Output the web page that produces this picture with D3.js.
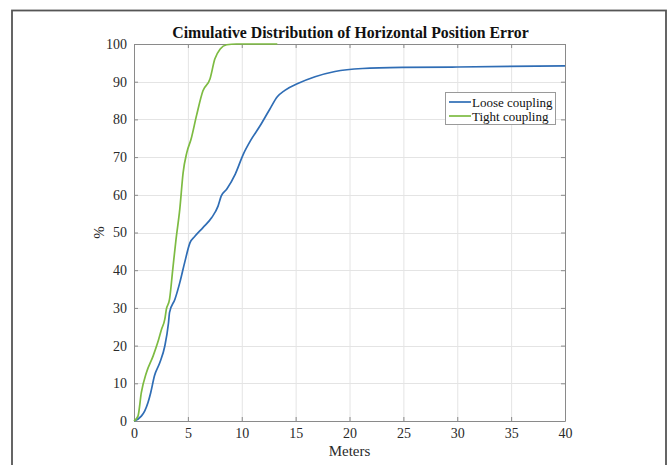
<!DOCTYPE html>
<html>
<head>
<meta charset="utf-8">
<script src="https://cdn.jsdelivr.net/npm/d3@7"></script>
<style>
  html, body { margin: 0; padding: 0; background: #fff; }
  svg { display: block; font-family: "Liberation Serif", "Times New Roman", serif; }
</style>
</head>
<body>
<svg id="chart" width="670" height="465"></svg>
<script>
// Horizontal position error CDF (meters vs. cumulative %)
const looseX = [0, 0.68, 1.0, 1.3, 1.55, 1.9, 2.4, 2.86, 3.2, 3.3, 3.8, 4.25, 4.7, 5.2, 5.65, 6.4, 7.2, 7.8, 8.1, 8.6, 9.4, 10.15, 10.8, 11.7, 12.6, 13.3, 14.0, 15.2, 16.8, 18.65, 21.2, 24.9, 30, 40];
const looseY = [0, 1.3, 2.7, 4.9, 7.5, 12, 15.5, 19.9, 26, 28.8, 32.3, 36.7, 42, 47.3, 49, 51.3, 53.9, 57, 59.7, 61.5, 65.5, 70.8, 74.3, 78.3, 82.7, 86, 87.7, 89.5, 91.3, 92.7, 93.5, 93.8, 93.9, 94.2];

const tightX = [0, 0.37, 0.68, 1.15, 1.77, 2.2, 2.55, 2.86, 3.0, 3.3, 3.6, 3.9, 4.25, 4.56, 4.9, 5.3, 5.8, 6.4, 7.05, 7.5, 8.0, 8.6, 9.5, 13.3];
const tightY = [0, 1.3, 7.5, 12.8, 17.2, 20.8, 24.3, 27, 29.6, 32.3, 40.3, 48.2, 56.2, 65.9, 71.2, 74.8, 81, 87.6, 90.7, 96, 98.7, 99.8, 100, 100];

const seriesNames = ["Loose coupling", "Tight coupling"];
const seriesColors = ["#2f6db5", "#7dbb42"];

const xTicks = [0, 5, 10, 15, 20, 25, 30, 35, 40];
const yTicks = [0, 10, 20, 30, 40, 50, 60, 70, 80, 90, 100];

const titleText = "Cimulative Distribution of Horizontal Position Error";
const xLabel = "Meters";
const yLabel = "%";

const serif = "Liberation Serif, Times New Roman, serif";
const svg = d3.select("#chart");

// outer frame
svg.append("rect")
  .attr("x", 12).attr("y", 10.5)
  .attr("width", 654).attr("height", 470)
  .attr("fill", "none").attr("stroke", "#555").attr("stroke-width", 1.8);

const plot = { left: 134, top: 44, right: 565, bottom: 421 };

const x = d3.scaleLinear().domain([0, 40]).range([plot.left, plot.right]);
const y = d3.scaleLinear().domain([0, 100]).range([plot.bottom, plot.top]);

// grid
const grid = svg.append("g").attr("stroke", "#e4e4e4").attr("stroke-width", 1);
grid.selectAll("line.gx").data(xTicks.slice(1, -1)).join("line")
  .attr("x1", d => x(d) + 0.5).attr("x2", d => x(d) + 0.5)
  .attr("y1", plot.top).attr("y2", plot.bottom);
grid.selectAll("line.gy").data(yTicks.slice(1, -1)).join("line")
  .attr("y1", d => Math.round(y(d)) + 0.5).attr("y2", d => Math.round(y(d)) + 0.5)
  .attr("x1", plot.left).attr("x2", plot.right);

// axes with inward ticks
const axisColor = "#8a8a8a";
const textColor = "#2a2a2a";
function styleAxis(g) {
  g.attr("font-family", serif).attr("font-size", 14);
  g.select(".domain").attr("stroke", axisColor);
  g.selectAll(".tick line").attr("stroke", axisColor);
  g.selectAll(".tick text").attr("fill", textColor);
}

svg.append("g").attr("transform", `translate(0,${plot.bottom})`)
  .call(d3.axisBottom(x).tickValues(xTicks).tickSizeInner(-4).tickSizeOuter(0).tickPadding(7))
  .call(styleAxis);
svg.append("g").attr("transform", `translate(0,${plot.top})`)
  .call(d3.axisTop(x).tickValues(xTicks).tickSizeInner(-4).tickSizeOuter(0).tickFormat(""))
  .call(styleAxis);
svg.append("g").attr("transform", `translate(${plot.left},0)`)
  .call(d3.axisLeft(y).tickValues(yTicks).tickSizeInner(-4).tickSizeOuter(0).tickPadding(7))
  .call(styleAxis);
svg.append("g").attr("transform", `translate(${plot.right},0)`)
  .call(d3.axisRight(y).tickValues(yTicks).tickSizeInner(-4).tickSizeOuter(0).tickFormat(""))
  .call(styleAxis);

// curves
const line = d3.line().x(d => x(d[0])).y(d => y(d[1])).curve(d3.curveMonotoneX);
const series = [
  d3.zip(looseX, looseY),
  d3.zip(tightX, tightY)
];
series.forEach((s, i) => {
  svg.append("path").datum(s)
    .attr("d", line)
    .attr("fill", "none")
    .attr("stroke", seriesColors[i])
    .attr("stroke-width", 1.7);
});

// title and axis labels
svg.append("text")
  .attr("x", (plot.left + plot.right) / 2 + 1).attr("y", 38)
  .attr("text-anchor", "middle")
  .attr("font-family", serif)
  .attr("font-weight", "bold").attr("font-size", 15.8)
  .attr("fill", "#111")
  .text(titleText);

svg.append("text")
  .attr("x", (plot.left + plot.right) / 2).attr("y", 456)
  .attr("text-anchor", "middle")
  .attr("font-family", serif)
  .attr("font-size", 15).attr("fill", textColor)
  .text(xLabel);

svg.append("text")
  .attr("transform", `translate(104,${(plot.top + plot.bottom) / 2}) rotate(-90)`)
  .attr("text-anchor", "middle")
  .attr("font-family", serif)
  .attr("font-size", 15).attr("fill", textColor)
  .text(yLabel);

// legend
const legend = svg.append("g").attr("transform", "translate(445,92)");
legend.append("rect")
  .attr("x", 0.5).attr("y", 0.5).attr("width", 110).attr("height", 32)
  .attr("fill", "#fff").attr("stroke", "#9a9a9a").attr("stroke-width", 1);
seriesNames.forEach((name, i) => {
  const ly = 10 + i * 14;
  legend.append("line")
    .attr("x1", 4).attr("x2", 26).attr("y1", ly).attr("y2", ly)
    .attr("stroke", seriesColors[i]).attr("stroke-width", 1.7);
  legend.append("text")
    .attr("x", 27).attr("y", ly + 4.5)
    .attr("font-family", serif)
    .attr("font-size", 13).attr("fill", "#111")
    .text(name);
});
</script>
</body>
</html>
